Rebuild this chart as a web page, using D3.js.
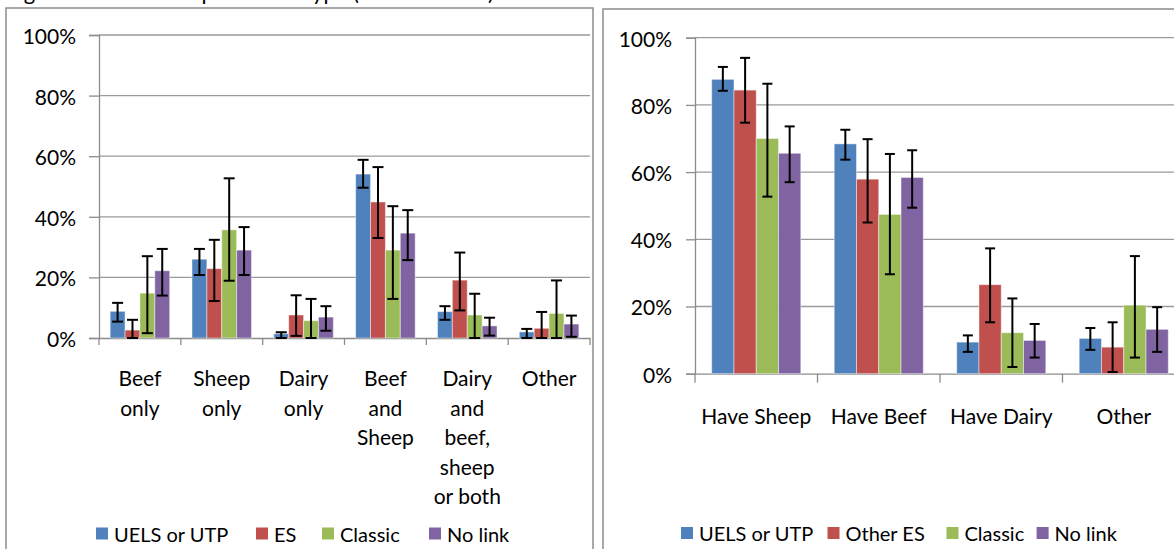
<!DOCTYPE html>
<html><head><meta charset="utf-8">
<script src="https://cdn.jsdelivr.net/npm/d3@7/dist/d3.min.js"></script>
<style>
html,body{margin:0;padding:0;background:#fff;overflow:hidden;}
text{font-family:Lato,"Open Sans",sans-serif;fill:#000;}
</style></head>
<body>
<svg id="chart" width="1174" height="549"></svg>
<script>
// ---------- DATA ----------
const titleText = "Figure 3: Main enterprise farm type (% of all farms)";
const yTicks = [0, 20, 40, 60, 80, 100];

const leftCategories = ["Beef only", "Sheep only", "Dairy only", "Beef and Sheep", "Dairy and beef, sheep or both", "Other"];
const leftCategoryLines = [["Beef","only"],["Sheep","only"],["Dairy","only"],["Beef","and","Sheep"],["Dairy","and","beef,","sheep","or both"],["Other"]];
const leftSeries = ["UELS or UTP", "ES", "Classic", "No link"];
const leftUELS      = [8.8, 26.0, 1.4, 54.1, 8.7, 2.0];
const leftUELSLo    = [5.4, 20.8, 0.0, 49.6, 6.0, 0.0];
const leftUELSHi    = [11.6, 29.4, 1.9, 58.8, 10.5, 3.0];
const leftES        = [2.6, 22.9, 7.6, 44.9, 19.1, 3.2];
const leftESLo      = [0.0, 12.2, 0.7, 33.0, 9.1, 0.0];
const leftESHi      = [6.0, 32.4, 14.1, 56.4, 28.2, 8.6];
const leftClassic   = [14.8, 35.7, 5.7, 29.0, 7.6, 8.1];
const leftClassicLo = [1.6, 18.9, 0.0, 12.9, 0.0, 0.0];
const leftClassicHi = [27.0, 52.7, 12.9, 43.5, 14.6, 19.0];
const leftNoLink    = [22.2, 29.0, 6.9, 34.6, 4.0, 4.6];
const leftNoLinkLo  = [14.0, 20.8, 2.4, 25.7, 0.8, 0.4];
const leftNoLinkHi  = [29.4, 36.6, 10.5, 42.2, 6.7, 7.4];

const rightCategories = ["Have Sheep", "Have Beef", "Have Dairy", "Other"];
const rightSeries = ["UELS or UTP", "Other ES", "Classic", "No link"];
const rightUELS      = [87.6, 68.4, 9.4, 10.5];
const rightUELSLo    = [84.2, 63.7, 6.5, 7.1];
const rightUELSHi    = [91.3, 72.6, 11.4, 13.6];
const rightOtherES   = [84.4, 57.9, 26.5, 7.9];
const rightOtherESLo = [74.7, 45.0, 15.3, 0.5];
const rightOtherESHi = [94.0, 69.8, 37.3, 15.3];
const rightClassic   = [70.0, 47.4, 12.2, 20.4];
const rightClassicLo = [52.7, 29.6, 2.0, 4.8];
const rightClassicHi = [86.3, 65.4, 22.4, 35.0];
const rightNoLink    = [65.6, 58.4, 9.9, 13.2];
const rightNoLinkLo  = [57.0, 49.4, 4.8, 6.5];
const rightNoLinkHi  = [73.6, 66.5, 14.8, 19.8];

const colors = ["#4F81BD", "#C0504D", "#9BBB59", "#8064A2"];

// ---------- DRAW ----------
const svg = d3.select("#chart");
const FS = 21;

svg.append("text").attr("x", 6).attr("y", -0.5).attr("font-size", 22).text(titleText);

function drawPanel(cfg) {
  const g = svg.append("g");
  g.append("rect").attr("x", cfg.frame[0]).attr("y", cfg.frame[1])
    .attr("width", cfg.frame[2]).attr("height", cfg.frame[3])
    .attr("fill", "none").attr("stroke", "#8c8c8c").attr("stroke-width", 1.5);

  const y = d3.scaleLinear().domain([0, 100]).range([cfg.y0, cfg.y100]);
  const x0 = d3.scaleBand().domain(cfg.cats).range([cfg.xl, cfg.xr]).paddingInner(0).paddingOuter(0);
  const x1 = d3.scaleBand().domain(cfg.series).range([0, x0.bandwidth()]).paddingInner(0).paddingOuter(0.75);

  g.append("g").selectAll("line").data(yTicks.filter(t => t > 0)).join("line")
    .attr("x1", cfg.xl).attr("x2", cfg.gridEnd)
    .attr("y1", d => y(d)).attr("y2", d => y(d))
    .attr("stroke", "#9a9a9a").attr("stroke-width", 1.3);

  const ya = g.append("g").attr("transform", `translate(${cfg.xl},0)`)
    .call(d3.axisLeft(y).tickValues(yTicks).tickSize(cfg.ytick).tickPadding(cfg.ypad).tickFormat(d => d + "%"));
  ya.select(".domain").attr("stroke", "#8c8c8c").attr("stroke-width", 1.3);
  ya.selectAll(".tick line").attr("stroke", "#8c8c8c").attr("stroke-width", 1.3);
  ya.selectAll(".tick text").attr("font-size", FS).attr("font-family", "Lato").attr("fill", "#000").attr("dy", "0.4em");

  const xa = g.append("g").attr("transform", `translate(0,${cfg.y0})`)
    .call(d3.axisBottom(x0).tickSize(0).tickFormat(""));
  xa.select(".domain").attr("stroke", "#8c8c8c").attr("stroke-width", 1.3);
  const boundaries = cfg.cats.map(c => x0(c)).concat([cfg.xr]);
  g.append("g").selectAll("line").data(boundaries).join("line")
    .attr("x1", d => d).attr("x2", d => d).attr("y1", cfg.y0).attr("y2", cfg.y0 + cfg.xtick)
    .attr("stroke", "#8c8c8c").attr("stroke-width", 1.3);

  cfg.series.forEach((s, si) => {
    const vals = cfg.values[si];
    g.append("g").selectAll("rect").data(vals).join("rect")
      .attr("x", (d, i) => x0(cfg.cats[i]) + x1(s))
      .attr("width", x1.bandwidth())
      .attr("y", d => y(d))
      .attr("height", d => y(0) - y(d))
      .attr("fill", colors[si])
      .attr("stroke", "#ffffff").attr("stroke-opacity", 0.45).attr("stroke-width", 1);
  });
  cfg.series.forEach((s, si) => {
    const lo = cfg.lo[si], hi = cfg.hi[si];
    const ge = g.append("g").attr("stroke", "#000").attr("stroke-width", 2);
    const cx = i => x0(cfg.cats[i]) + x1(s) + x1.bandwidth() / 2;
    cfg.cats.forEach((c, i) => {
      ge.append("line").attr("x1", cx(i)).attr("x2", cx(i)).attr("y1", y(lo[i])).attr("y2", y(hi[i]));
      ge.append("line").attr("x1", cx(i) - cfg.cap / 2).attr("x2", cx(i) + cfg.cap / 2).attr("y1", y(hi[i])).attr("y2", y(hi[i]));
      ge.append("line").attr("x1", cx(i) - cfg.cap / 2).attr("x2", cx(i) + cfg.cap / 2).attr("y1", y(lo[i])).attr("y2", y(lo[i]));
    });
  });

  const lab = g.append("g");
  cfg.cats.forEach((c, i) => {
    const cxl = x0(c) + x0.bandwidth() / 2;
    const t = lab.append("text").attr("text-anchor", "middle").attr("font-size", FS)
      .attr("x", cxl).attr("y", cfg.labelY);
    cfg.lines[i].forEach((ln, li) => {
      t.append("tspan").attr("x", cxl).attr("y", cfg.labelY + li * cfg.lineH).text(ln);
    });
  });

  const lg = g.append("g");
  cfg.series.forEach((s, si) => {
    lg.append("rect").attr("x", cfg.legendX[si]).attr("y", cfg.legendY - 14).attr("width", 12).attr("height", 12).attr("fill", colors[si]);
    lg.append("text").attr("x", cfg.legendX[si] + 18).attr("y", cfg.legendY).attr("font-size", 20).text(s);
  });
}

drawPanel({
  frame: [6, 8, 587, 560],
  cats: leftCategories, lines: leftCategoryLines, series: leftSeries,
  values: [leftUELS, leftES, leftClassic, leftNoLink],
  lo: [leftUELSLo, leftESLo, leftClassicLo, leftNoLinkLo],
  hi: [leftUELSHi, leftESHi, leftClassicHi, leftNoLinkHi],
  xl: 99, xr: 590, gridEnd: 590, y0: 338, y100: 35,
  ytick: 10, ypad: 13, xtick: 7, cap: 11,
  labelY: 386, lineH: 29.5,
  legendX: [96, 256, 322, 429], legendY: 541.5
});

drawPanel({
  frame: [603, 9, 600, 560],
  cats: rightCategories, lines: rightCategories.map(c => [c]), series: rightSeries,
  values: [rightUELS, rightOtherES, rightClassic, rightNoLink],
  lo: [rightUELSLo, rightOtherESLo, rightClassicLo, rightNoLinkLo],
  hi: [rightUELSHi, rightOtherESHi, rightClassicHi, rightNoLinkHi],
  xl: 695, xr: 1185, gridEnd: 1185, y0: 373.7, y100: 37.7,
  ytick: 9, ypad: 14, xtick: 9, cap: 10,
  labelY: 424, lineH: 29.5,
  legendX: [681, 827.5, 946.5, 1036.6], legendY: 541
});
</script>
</body></html>
